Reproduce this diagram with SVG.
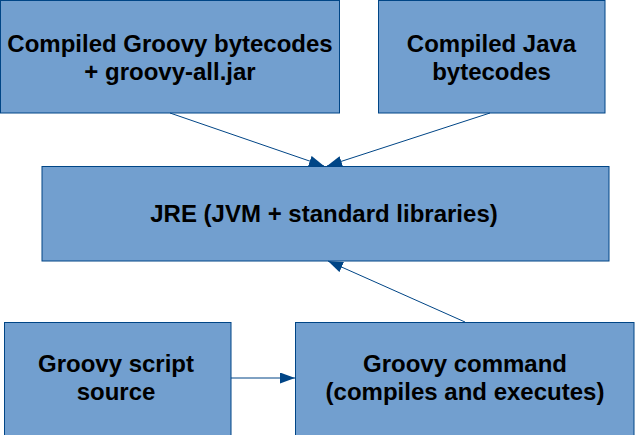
<svg xmlns="http://www.w3.org/2000/svg" width="635" height="435" viewBox="0 0 635 435">
<style>
.box{fill:#729fcf;stroke:#004586;stroke-width:1}
.t{font-family:"Liberation Sans",Arial,sans-serif;font-weight:bold;font-size:24px;fill:#000;text-anchor:middle}
.c{stroke:#004586;stroke-width:1;fill:none;marker-end:url(#ah)}
</style>
<defs>
<marker id="ah" markerUnits="userSpaceOnUse" markerWidth="16" markerHeight="12" refX="15" refY="5.5" orient="auto">
<polygon points="0,0 15,5.5 0,11" fill="#004586"/>
</marker>
</defs>
<rect width="635" height="435" fill="#fff"/>
<g id="groovy-bytecodes">
<rect class="box" x="0.5" y="0.5" width="339" height="112.5"/>
<text class="t" x="170" y="52">Compiled Groovy bytecodes</text>
<text class="t" x="170" y="80">+ groovy-all.jar</text>
</g>
<g id="java-bytecodes">
<rect class="box" x="378.5" y="0.5" width="226.5" height="112.5"/>
<text class="t" x="491.5" y="52">Compiled Java</text>
<text class="t" x="491.5" y="80">bytecodes</text>
</g>
<g id="jre">
<rect class="box" x="42" y="166.5" width="567" height="94.5"/>
<text class="t" x="324" y="222">JRE (JVM + standard libraries)</text>
</g>
<g id="script-source">
<rect class="box" x="4.5" y="322.5" width="226.5" height="113"/>
<text class="t" x="116" y="372">Groovy script</text>
<text class="t" x="116" y="400">source</text>
</g>
<g id="groovy-command">
<rect class="box" x="295.5" y="322.5" width="338.5" height="113"/>
<text class="t" x="465" y="372">Groovy command</text>
<text class="t" x="465" y="400">(compiles and executes)</text>
</g>
<g id="connectors">
<line class="c" x1="170" y1="113" x2="324" y2="166"/>
<line class="c" x1="490" y1="113" x2="327" y2="166"/>
<line class="c" x1="465" y1="322" x2="328" y2="261"/>
<line class="c" x1="231" y1="378" x2="295" y2="378"/>
</g>
</svg>
